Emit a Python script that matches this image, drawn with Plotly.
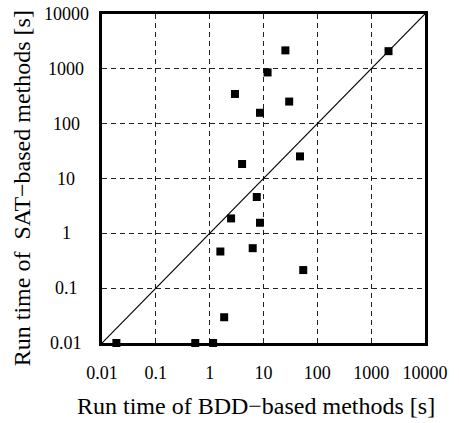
import math
import plotly.graph_objects as go

# Data: run times [s]
bdd_times = [2100, 25.5, 11.9, 2.95, 30, 8.6, 4.0, 47.6, 7.5, 2.5, 8.6, 1.58, 6.3, 54.7, 1.86, 0.0185, 0.54, 1.16]
sat_times = [2100, 2170, 859, 348, 253, 158, 18.4, 25.3, 4.6, 1.87, 1.56, 0.466, 0.536, 0.214, 0.0295, 0.01, 0.01, 0.01]

tick_vals = [0.01, 0.1, 1, 10, 100, 1000, 10000]
tick_text = ["0.01", "0.1", "1", "10", "100", "1000", "10000"]
diag = [0.01, 10000]

x_title = "Run time of BDD\u2212based methods [s]"
y_title = "Run time of  SAT\u2212based methods [s]"

FONT = "Liberation Serif"

fig = go.Figure()
fig.add_trace(go.Scatter(x=diag, y=diag, mode="lines",
                         line=dict(color="black", width=1.2),
                         showlegend=False, hoverinfo="skip"))
fig.add_trace(go.Scatter(x=bdd_times, y=sat_times, mode="markers",
                         marker=dict(symbol="square", size=8, color="black",
                                     line=dict(width=0)),
                         cliponaxis=False, showlegend=False))

axis_common = dict(
    type="log", range=[-2, 4],
    tickvals=tick_vals, ticktext=tick_text,
    showgrid=True, gridcolor="#222", gridwidth=1, griddash="5px,4px",
    showline=True, linecolor="black", linewidth=2.5, mirror=True,
    zeroline=False,
    tickfont=dict(family=FONT, size=18, color="black"),
)

fig.update_xaxes(**axis_common, ticks="outside", ticklen=12,
                 tickcolor="rgba(0,0,0,0)")
fig.update_yaxes(**axis_common, showticklabels=False)

annotations = []
for v, t in zip(tick_vals, tick_text):
    annotations.append(dict(xref="paper", yref="y", x=-0.11, y=math.log10(v),
                            text=t, showarrow=False, xanchor="center",
                            yanchor="middle",
                            font=dict(family=FONT, size=18, color="black")))
annotations.append(dict(xref="paper", yref="paper", x=0.477, y=-0.19,
                        text=x_title, showarrow=False, xanchor="center",
                        yanchor="middle",
                        font=dict(family=FONT, size=24, color="black")))
annotations.append(dict(xref="paper", yref="paper", x=-0.248, y=0.47,
                        text=y_title, showarrow=False, textangle=-90,
                        xanchor="center", yanchor="middle",
                        font=dict(family=FONT, size=24, color="black")))

fig.update_layout(
    width=459, height=423,
    margin=dict(l=102, r=26, t=11, b=80),
    paper_bgcolor="white", plot_bgcolor="white",
    annotations=annotations,
    font=dict(family=FONT, color="black"),
)

fig.write_html("out.html")
